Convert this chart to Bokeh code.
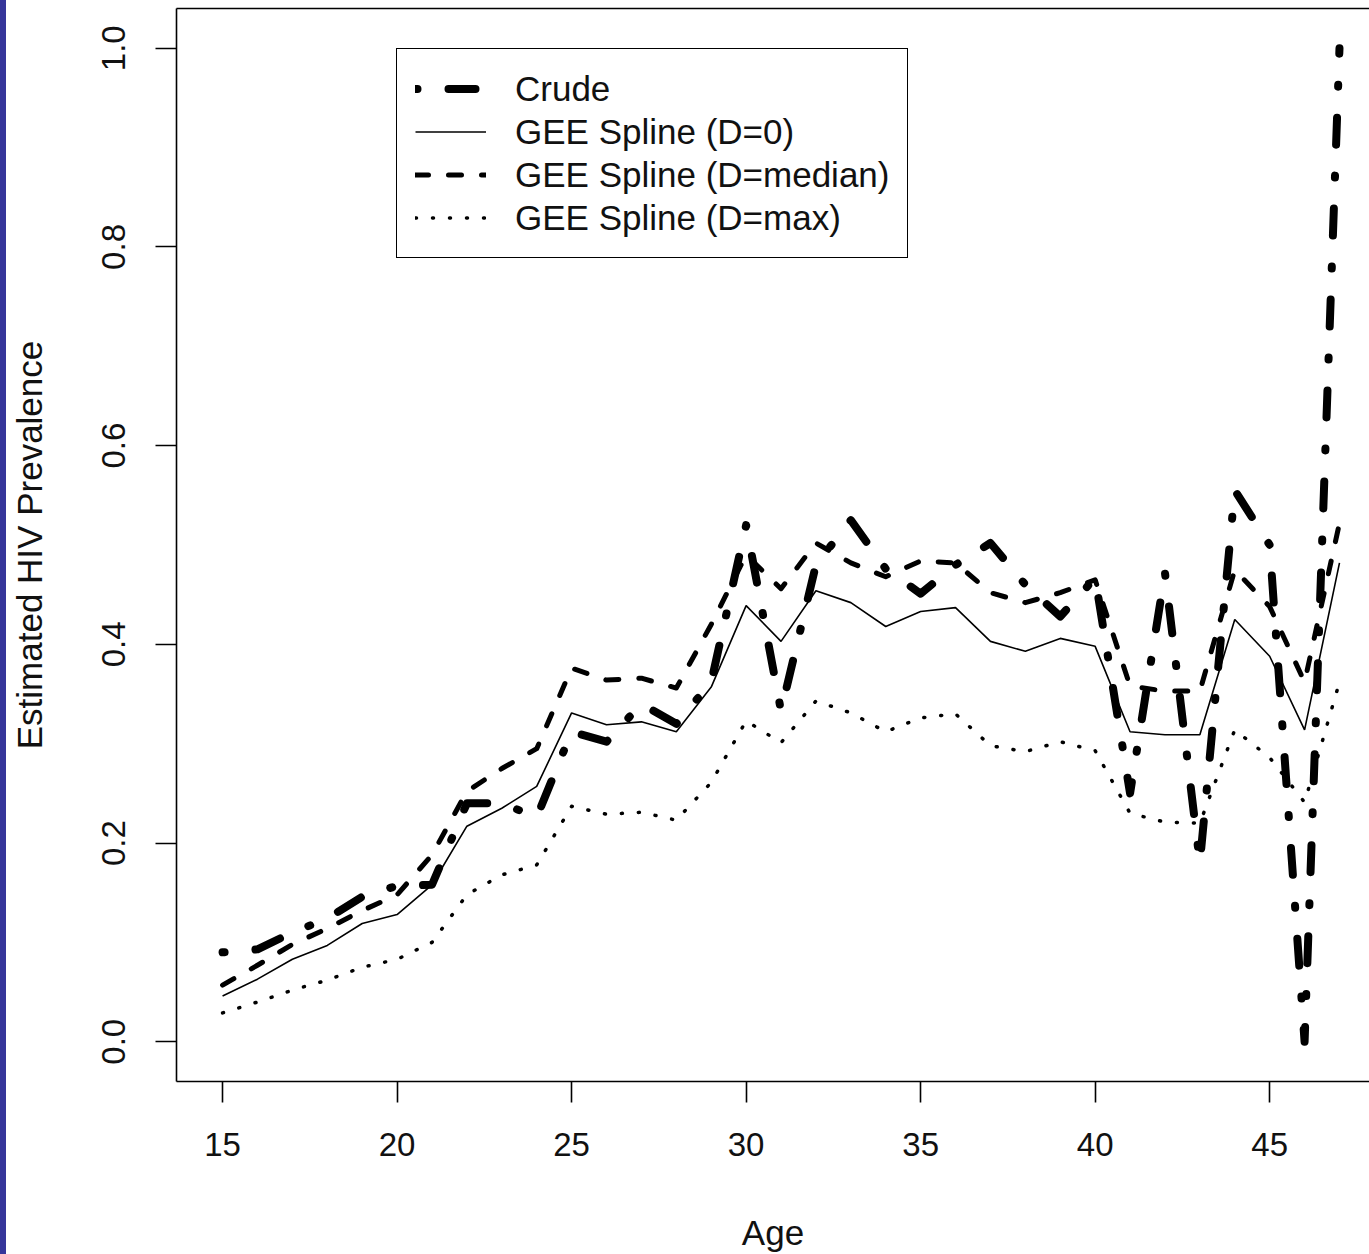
import math
from bokeh.plotting import figure
from bokeh.models import (Range1d, FixedTicker, LinearAxis, Legend, LegendItem,
                          Div, CustomJSTickFormatter)
from bokeh.layouts import row
from bokeh.embed import file_html
from bokeh.resources import INLINE

ages = list(range(15, 48))
crude = [0.090, 0.093, 0.110, 0.124, 0.146, 0.157, 0.158, 0.240, 0.240, 0.226,
         0.312, 0.302, 0.340, 0.320, 0.362, 0.520, 0.333, 0.480, 0.525, 0.476,
         0.451, 0.480, 0.502, 0.460, 0.428, 0.467, 0.250, 0.472, 0.180, 0.555,
         0.500, 0.000, 1.000]
gee_d0 = [0.046, 0.063, 0.083, 0.097, 0.119, 0.128, 0.158, 0.217, 0.235, 0.257,
          0.331, 0.319, 0.322, 0.312, 0.357, 0.439, 0.403, 0.454, 0.442, 0.418,
          0.433, 0.437, 0.403, 0.393, 0.406, 0.398, 0.312, 0.309, 0.309, 0.425,
          0.388, 0.314, 0.482]
gee_median = [0.057, 0.077, 0.098, 0.114, 0.132, 0.148, 0.188, 0.252, 0.275, 0.295,
              0.376, 0.364, 0.366, 0.356, 0.420, 0.490, 0.456, 0.502, 0.482, 0.468,
              0.484, 0.482, 0.452, 0.442, 0.452, 0.465, 0.358, 0.353, 0.353, 0.475,
              0.438, 0.362, 0.522]
gee_max = [0.029, 0.040, 0.052, 0.062, 0.075, 0.083, 0.100, 0.148, 0.168, 0.178,
           0.237, 0.229, 0.231, 0.223, 0.261, 0.323, 0.301, 0.343, 0.331, 0.312,
           0.326, 0.330, 0.298, 0.292, 0.302, 0.293, 0.230, 0.221, 0.220, 0.314,
           0.286, 0.241, 0.362]

x_ticks = [15, 20, 25, 30, 35, 40, 45]
y_ticks = [0.0, 0.2, 0.4, 0.6, 0.8, 1.0]
legend_labels = ["Crude", "GEE Spline (D=0)", "GEE Spline (D=median)", "GEE Spline (D=max)"]

FONT = "Liberation Sans"
TICK_FS = "33px"
LAB_FS = "35px"

p = figure(width=1363, height=1254, output_backend="svg", toolbar_location=None,
           x_range=Range1d(13.68, 47.86), y_range=Range1d(-0.04, 1.04),
           min_border_left=170, min_border_right=0, min_border_top=8,
           min_border_bottom=172, x_axis_label="Age",
           y_axis_label="Estimated HIV Prevalence")
p.grid.visible = False
p.outline_line_color = None
p.background_fill_color = "white"
p.border_fill_color = "white"

for ax in (p.xaxis[0], p.yaxis[0]):
    ax.axis_line_color = "black"
    ax.axis_line_width = 1.6
    ax.major_tick_line_color = "black"
    ax.major_tick_line_width = 1.6
    ax.major_tick_out = 21
    ax.major_tick_in = 0
    ax.minor_tick_line_color = None
    ax.major_label_text_font = FONT
    ax.major_label_text_font_size = TICK_FS
    ax.major_label_text_color = "#111111"
    ax.axis_label_text_font = FONT
    ax.axis_label_text_font_size = LAB_FS
    ax.axis_label_text_font_style = "normal"
    ax.axis_label_text_color = "#111111"

p.xaxis[0].ticker = FixedTicker(ticks=x_ticks)
p.xaxis[0].major_label_standoff = 30
p.xaxis[0].axis_label_standoff = 54
p.yaxis[0].ticker = FixedTicker(ticks=y_ticks)
p.yaxis[0].formatter = CustomJSTickFormatter(code="return tick.toFixed(1);")
p.yaxis[0].major_label_orientation = "parallel"
p.yaxis[0].major_label_standoff = 30
p.yaxis[0].axis_label_standoff = 51

top_ax = LinearAxis(ticker=FixedTicker(ticks=[]), axis_line_width=1.6,
                    axis_line_color="black", major_tick_line_color=None,
                    minor_tick_line_color=None, major_label_text_font_size="0px")
p.add_layout(top_ax, "above")

r_crude = p.line(ages, crude, line_color="black", line_width=8,
                 line_dash="2 31 27 31", line_cap="round", line_join="round")
r_d0 = p.line(ages, gee_d0, line_color="black", line_width=1.6)
r_med = p.line(ages, gee_median, line_color="black", line_width=5,
               line_dash="13 20", line_cap="round", line_join="round")
r_max = p.line(ages, gee_max, line_color="black", line_width=3.5,
               line_dash="1 16", line_cap="round", line_join="round")

legend = Legend(items=[LegendItem(label=legend_labels[0], renderers=[r_crude]),
                       LegendItem(label=legend_labels[1], renderers=[r_d0]),
                       LegendItem(label=legend_labels[2], renderers=[r_med]),
                       LegendItem(label=legend_labels[3], renderers=[r_max])],
                location=(220, 823), orientation="vertical",
                border_line_color="black", border_line_width=1.6,
                border_line_alpha=1.0,
                background_fill_color="white", background_fill_alpha=1.0,
                label_text_font=FONT, label_text_font_size=LAB_FS,
                label_text_color="#111111",
                glyph_width=71, glyph_height=43, label_height=43,
                label_standoff=29, padding=18, spacing=0, margin=0)
p.add_layout(legend)

bar = Div(width=6, height=1254, styles={"background-color": "#35359a"}, margin=0)
p.margin = 0
layout = row(bar, p, spacing=0)

open("out.html", "w").write(file_html(layout, INLINE))
